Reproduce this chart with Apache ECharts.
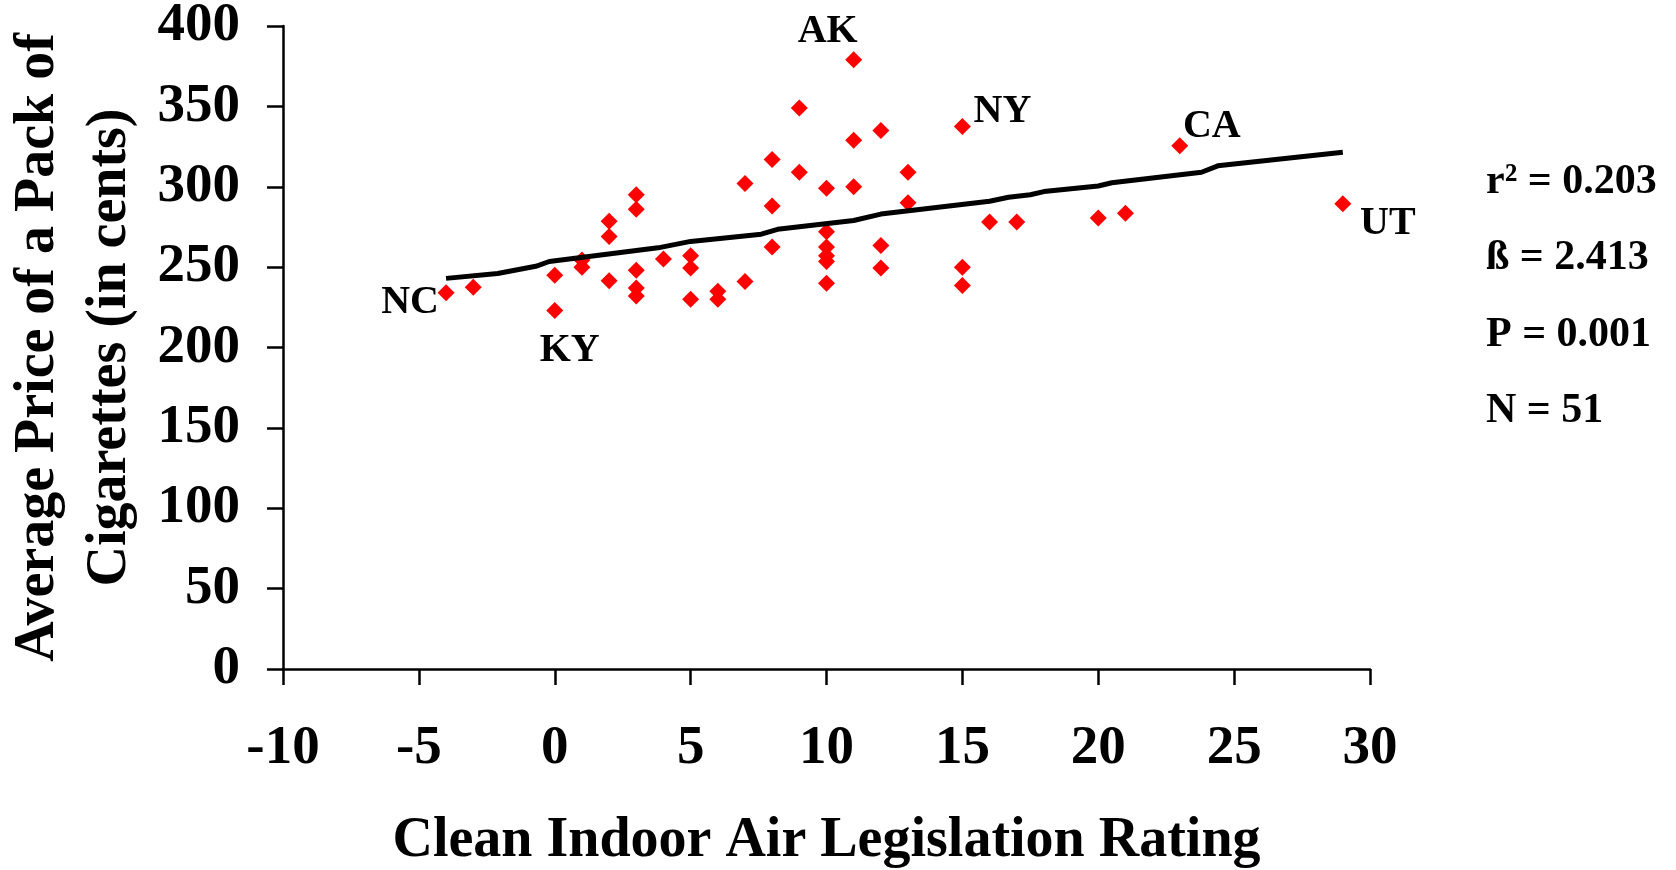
<!DOCTYPE html>
<html>
<head>
<meta charset="utf-8">
<script src="https://cdn.jsdelivr.net/npm/echarts@6/dist/echarts.min.js"></script>
<style>
  html, body { margin: 0; padding: 0; background: #fff; }
  #chart { width: 1676px; height: 870px; }
</style>
</head>
<body>
<div id="chart"></div>
<script>
// clean indoor air rating (x) vs average pack price in cents (y), one entry per state
const rating = [-4, -3, 0, 0, 1, 1, 2, 2, 2, 3, 3, 3, 3, 3, 4, 5, 5, 5, 6, 6,
                7, 7, 8, 8, 8, 9, 9, 10, 10, 10, 10, 10, 10, 11, 11, 11, 12, 12, 12,
                13, 13, 15, 15, 15, 16, 17, 20, 21, 23, 29];
const price = [234, 237.5, 245, 223, 254.5, 250, 278.5, 269, 241.5, 295, 286, 248, 237, 232, 255, 257, 249.5, 230, 235, 230,
               302, 241, 317, 288, 262.5, 349, 309, 299, 272, 262.5, 257, 253.5, 240, 379, 329, 300, 335, 263.5, 249.5,
               309, 290, 337.5, 250, 238.5, 278, 278, 280.5, 283.5, 325.5, 289.5];
const stateCode = ['NC', '', '', 'KY', '', '', '', '', '', '', '', '', '', '', '', '', '', '', '', '',
                   '', '', '', '', '', '', '', '', '', '', '', '', '', 'AK', '', '', '', '', '',
                   '', '', 'NY', '', '', '', '', '', '', 'CA', 'UT'];

// fitted line
const fitX = [-4, -2.1, -0.7, -0.2, 3.8, 5, 7.6, 8.2, 11, 12, 16, 16.7, 17.5, 18, 20, 20.5, 23.8, 24.4, 29];
const fitY = [243, 246, 250.5, 253.5, 262, 266, 270.5, 273.5, 279, 283, 291, 293.5, 295, 297, 300.5, 302.5, 309, 313, 321.5];

const xTicks = { min: -10, max: 30, step: 5 };
const yTicks = { min: 0, max: 400, step: 50 };
const stats = ['r² = 0.203', 'ß = 2.413', 'P = 0.001', 'N = 51'];

const serif = '"Times New Roman", "Liberation Serif", serif';

// where each state label sits, relative to its marker
const labelOffset = {
    NC: [-36, 10],
    KY: [15, 40],
    AK: [-26, -28],
    NY: [40, -15],
    CA: [32, -19],
    UT: [45, 20]
};

let points = rating.map((x, i) => {
    let item = { value: [x, price[i]] };
    let code = stateCode[i];
    if (code) {
        item.label = {
            show: true,
            formatter: code,
            position: 'inside',
            offset: labelOffset[code],
            color: '#000',
            opacity: 1,
            textBorderWidth: 0,
            textBorderColor: 'transparent',
            fontFamily: serif,
            fontWeight: 'bold',
            fontSize: 40
        };
    }
    return item;
});

let fitLine = fitX.map((x, i) => [x, fitY[i]]);

let axisCommon = {
    axisLine: { show: true, onZero: false, lineStyle: { color: '#000', width: 2.5 } },
    axisTick: { show: true, inside: false, length: 16, lineStyle: { color: '#000', width: 2.5 } },
    splitLine: { show: false },
    axisLabel: { color: '#000', fontFamily: serif, fontWeight: 'bold', fontSize: 55 },
    nameTextStyle: { color: '#000', fontFamily: serif, fontWeight: 'bold', fontSize: 56 }
};

let chart = echarts.init(document.getElementById('chart'), null, { renderer: 'canvas' });
let option = {
    animation: false,
    backgroundColor: '#fff',
    grid: { left: 283, right: 306, top: 26, bottom: 201, containLabel: false, outerBoundsMode: 'none' },
    xAxis: Object.assign({}, axisCommon, {
        type: 'value',
        min: xTicks.min,
        max: xTicks.max,
        interval: xTicks.step,
        name: 'Clean Indoor Air Legislation Rating',
        nameLocation: 'middle',
        nameGap: 173,
        nameTextStyle: Object.assign({}, axisCommon.nameTextStyle, { verticalAlign: 'middle' }),
        axisLabel: Object.assign({}, axisCommon.axisLabel, { margin: 52 })
    }),
    yAxis: Object.assign({}, axisCommon, {
        type: 'value',
        min: yTicks.min,
        max: yTicks.max,
        interval: yTicks.step,
        name: 'Average Price of a Pack of\nCigarettes (in cents)',
        nameLocation: 'middle',
        nameRotate: 90,
        nameGap: 196,
        nameTextStyle: Object.assign({}, axisCommon.nameTextStyle, { verticalAlign: 'middle', lineHeight: 72 }),
        axisLabel: Object.assign({}, axisCommon.axisLabel, { margin: 43 })
    }),
    series: [
        {
            type: 'scatter',
            symbol: 'diamond',
            symbolSize: 17,
            itemStyle: { color: '#ff0000', opacity: 1 },
            data: points,
            z: 2
        },
        {
            type: 'line',
            data: fitLine,
            showSymbol: false,
            symbol: 'none',
            lineStyle: { color: '#000', width: 5 },
            z: 3
        }
    ],
    graphic: stats.map((s, i) => ({
        type: 'text',
        x: 1486,
        y: 182 + i * 76.5,
        style: {
            text: s,
            fill: '#000',
            fontFamily: serif,
            fontWeight: 'bold',
            fontSize: 42,
            verticalAlign: 'middle'
        }
    }))
};
chart.setOption(option);
</script>
</body>
</html>
